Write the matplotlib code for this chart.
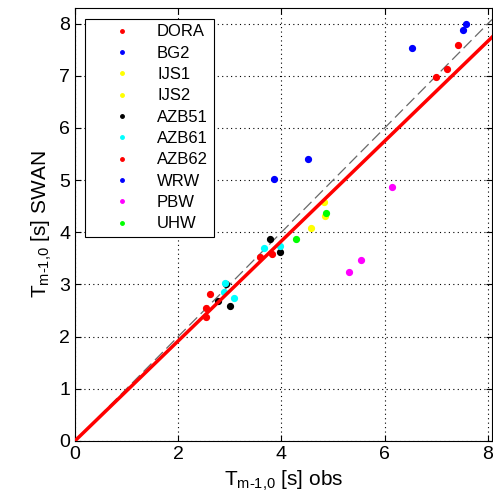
import numpy as np
import matplotlib
matplotlib.use("Agg")
from matplotlib import pyplot as plt

plt.rcParams['font.family'] = ['Liberation Sans', 'DejaVu Sans']
plt.rcParams['mathtext.fontset'] = 'custom'
plt.rcParams['mathtext.rm'] = 'Liberation Sans'

names = ['DORA', 'BG2', 'IJS1', 'IJS2', 'AZB51', 'AZB61', 'AZB62', 'WRW', 'PBW', 'UHW']
colors = ['red', 'blue', 'yellow', 'yellow', 'black', 'cyan', 'red', 'blue', 'magenta', 'lime']
obs = [
    [7.00, 7.21, 7.43],
    [7.58, 7.52, 6.53],
    [4.83],
    [4.85, 4.58],
    [3.77, 3.98, 2.92, 2.77, 3.00],
    [3.66, 3.98, 2.91, 2.88, 3.08],
    [3.82, 3.58, 2.62, 2.53, 2.53],
    [3.86, 4.52],
    [6.14, 5.54, 5.30],
    [4.87, 4.29],
]
swan = [
    [6.97, 7.13, 7.59],
    [8.00, 7.88, 7.54],
    [4.58],
    [4.32, 4.08],
    [3.87, 3.62, 3.00, 2.68, 2.58],
    [3.69, 3.73, 3.03, 2.85, 2.74],
    [3.58, 3.53, 2.81, 2.54, 2.38],
    [5.03, 5.41],
    [4.86, 3.46, 3.24],
    [4.37, 3.87],
]
fit_slope = 0.958
xmax, ymax = 8.08, 8.3

fig = plt.figure(figsize=(4.93, 5.01), dpi=100)
ax = fig.add_axes([0.152, 0.12, 0.846, 0.864])

leg_handles = []
for n, c, xo, ys in zip(names, colors, obs, swan):
    ax.plot(xo, ys, 'o', color=c, markersize=4.2, zorder=3)
    h, = ax.plot([], [], '.', color=c, markersize=5, label=n)
    leg_handles.append(h)

xx = np.array([0, xmax])
ax.plot(xx, xx, '--', color='dimgray', lw=0.9, dashes=(9, 4), zorder=2)
ax.plot(xx, fit_slope * xx, '-', color='red', lw=2.5, zorder=4)

ax.set_xlim(0, xmax)
ax.set_ylim(0, ymax)
ax.set_xticks([0, 2, 4, 6, 8])
ax.set_yticks(range(9))
ax.grid(True, linestyle=(0, (1, 3)), color='black', lw=0.8)
ax.tick_params(direction='in', top=True, right=True, labelsize=14, length=4)
for s in ax.spines.values():
    s.set_linewidth(0.8)

ax.set_xlabel(r'T$_{\mathregular{m\text{-}1{,}0}}$ [s] obs', fontsize=15)
ax.set_ylabel(r'T$_{\mathregular{m\text{-}1{,}0}}$ [s] SWAN', fontsize=15)

leg = ax.legend(handles=leg_handles, loc='upper left', fontsize=12, fancybox=False,
                edgecolor='black', framealpha=1, handlelength=3.7, handletextpad=0.25,
                borderpad=0.35, labelspacing=0.38, bbox_to_anchor=(0.005, 0.995))
leg.get_frame().set_linewidth(0.8)
leg.set_zorder(10)

plt.savefig('out.png', dpi=100)
plt.close()
